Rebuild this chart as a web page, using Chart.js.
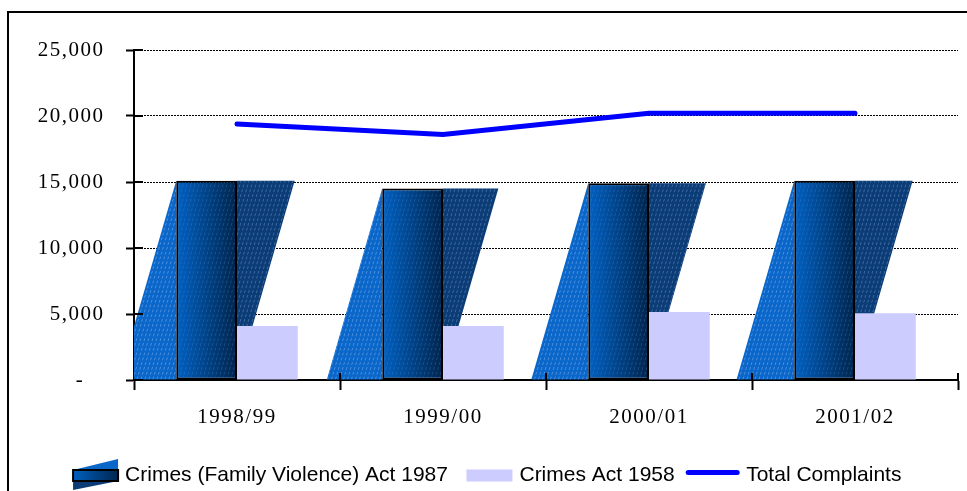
<!DOCTYPE html>
<html>
<head>
<meta charset="utf-8">
<script src="https://cdn.jsdelivr.net/npm/chart.js@4.4.1/dist/chart.umd.min.js"></script>
<style>
  html, body { margin: 0; padding: 0; background: #fff; }
  #wrap { width: 967px; height: 491px; position: relative; }
</style>
</head>
<body>
<div id="wrap"><canvas id="complaints"></canvas></div>
<script>
// DATA
const categories = ['1998/99', '1999/00', '2000/01', '2001/02'];
const familyViolence = [15100, 14500, 14900, 15100];
const crimesAct = [4100, 4100, 5150, 5050];
const totalComplaints = [19400, 18600, 20200, 20200];
const yTickLabels = ['-   ', '5,000', '10,000', '15,000', '20,000', '25,000'];
const seriesNames = ['Crimes (Family Violence) Act 1987', 'Crimes Act 1958', 'Total Complaints'];

const SHEAR = 0.29; // slant of the "3d" side pieces
const LEGEND_FONT = 21;
const LEGEND_BOX = 50;

function barBox(el) {
  const p = el.getProps(['x', 'y', 'base', 'width'], true);
  return {
    left: p.x - p.width / 2,
    right: p.x + p.width / 2,
    top: Math.min(p.y, p.base),
    base: Math.max(p.y, p.base)
  };
}

// faint dashed lines running along the slant
function hatch(ctx, x0, x1, top, base, color) {
  const s = (base - top) * SHEAR;
  ctx.save();
  ctx.strokeStyle = color;
  ctx.lineWidth = 1;
  ctx.setLineDash([3, 2]);
  for (let x = x0 - s; x < x1 + s; x += 4) {
    ctx.beginPath();
    ctx.moveTo(x, base);
    ctx.lineTo(x + s, top);
    ctx.stroke();
  }
  ctx.restore();
}

function rectShade(ctx, l, t, r, b) {
  const g = ctx.createLinearGradient(l, 0, r, 0);
  g.addColorStop(0, '#005fbf');
  g.addColorStop(1, '#00264f');
  ctx.fillStyle = g;
  ctx.fillRect(l, t, r - l, b - t);
}

// PARALLELOGRAM BARS
const slantBars = {
  id: 'slantBars',
  beforeDatasetsDraw(chart) {
    const ctx = chart.ctx;
    const area = chart.chartArea;
    ctx.save();
    ctx.beginPath();
    ctx.rect(area.left, area.top, area.right - area.left, area.bottom - area.top);
    ctx.clip();
    chart.getDatasetMeta(0).data.forEach(function(el) {
      const b = barBox(el);
      const s = (b.base - b.top) * SHEAR;
      // left piece
      ctx.save();
      ctx.beginPath();
      ctx.moveTo(b.left - s, b.base);
      ctx.lineTo(b.left, b.top);
      ctx.lineTo(b.left, b.base);
      ctx.closePath();
      ctx.fillStyle = '#0a66c8';
      ctx.fill();
      ctx.clip();
      hatch(ctx, b.left - s, b.left, b.top, b.base, 'rgba(150,195,255,0.45)');
      ctx.restore();
      // right piece
      ctx.save();
      ctx.beginPath();
      ctx.moveTo(b.right, b.top);
      ctx.lineTo(b.right + s, b.top);
      ctx.lineTo(b.right, b.base);
      ctx.closePath();
      ctx.fillStyle = '#0b3c76';
      ctx.fill();
      ctx.clip();
      hatch(ctx, b.right, b.right + s, b.top, b.base, 'rgba(120,160,215,0.45)');
      ctx.restore();
    });
    ctx.restore();
  },
  afterDatasetDraw(chart, args) {
    if (args.index !== 0) return;
    const ctx = chart.ctx;
    args.meta.data.forEach(function(el) {
      const b = barBox(el);
      ctx.save();
      ctx.beginPath();
      ctx.rect(b.left + 2, b.top + 2, b.right - b.left - 4, b.base - b.top - 4);
      ctx.clip();
      rectShade(ctx, b.left + 2, b.top + 2, b.right - 2, b.base - 2);
      hatch(ctx, b.left, b.right, b.top, b.base, 'rgba(90,140,210,0.3)');
      ctx.restore();
    });
  }
};

// serif tick labels are spaced out; legend is not
const spacing = {
  id: 'spacing',
  beforeDraw(chart) { chart.ctx.letterSpacing = '0px'; },
  afterDatasetsDraw(chart) { chart.ctx.letterSpacing = '1.5px'; },
  afterDraw(chart) { chart.ctx.letterSpacing = '0px'; }
};

// FRAME, CROSSING TICKS, LEGEND ICONS
const extras = {
  id: 'extras',
  afterDraw(chart) {
    const ctx = chart.ctx;
    const area = chart.chartArea;
    const yScale = chart.scales.y;
    const xScale = chart.scales.x;
    ctx.save();
    ctx.strokeStyle = '#000';
    ctx.lineWidth = 2;
    // outer frame
    ctx.beginPath();
    ctx.moveTo(8, 491);
    ctx.lineTo(8, 12);
    ctx.lineTo(967, 12);
    ctx.stroke();
    // tick marks reaching into the plot
    yScale.ticks.forEach(function(t) {
      const py = Math.round(yScale.getPixelForValue(t.value));
      ctx.beginPath();
      ctx.moveTo(area.left, py);
      ctx.lineTo(area.left + 9, py);
      ctx.stroke();
    });
    const step = (area.right - area.left) / categories.length;
    for (let k = 1; k <= categories.length; k++) {
      const px = Math.round(xScale.left + k * step);
      ctx.beginPath();
      ctx.moveTo(px, area.bottom - 7);
      ctx.lineTo(px, area.bottom);
      ctx.stroke();
    }
    ctx.restore();

    // legend icons
    const boxes = chart.legend.legendHitBoxes;
    boxes.forEach(function(hb, i) {
      const cy = hb.top + hb.height / 2;
      const iconRight = hb.left + LEGEND_BOX + LEGEND_FONT / 2 - 7;
      ctx.save();
      if (i === 0) {
        const x0 = iconRight - 45, x1 = iconRight, y0 = cy - 5.5, y1 = cy + 5.5;
        ctx.beginPath();
        ctx.moveTo(x0, y0); ctx.lineTo(x1, y0 - 11); ctx.lineTo(x1, y0); ctx.closePath();
        ctx.fillStyle = '#0a66c8'; ctx.fill();
        ctx.beginPath();
        ctx.moveTo(x0, y1); ctx.lineTo(x0, y1 + 9); ctx.lineTo(x1, y1); ctx.closePath();
        ctx.fillStyle = '#0b3c76'; ctx.fill();
        rectShade(ctx, x0, y0, x1, y1);
        ctx.strokeStyle = '#000'; ctx.lineWidth = 2;
        ctx.strokeRect(x0, y0, x1 - x0, y1 - y0);
      } else if (i === 1) {
        ctx.fillStyle = '#ccccff';
        ctx.fillRect(iconRight - 46, cy - 6, 46, 12);
      } else {
        ctx.strokeStyle = '#0000ff'; ctx.lineWidth = 5; ctx.lineCap = 'round';
        ctx.beginPath();
        ctx.moveTo(iconRight - 51, cy - 3);
        ctx.lineTo(iconRight - 2, cy - 3);
        ctx.stroke();
      }
      ctx.restore();
    });
  }
};

const tickFont = { family: "'Liberation Serif', 'Times New Roman', serif", size: 21 };

const data = {
  labels: categories,
  datasets: [{
    type: 'bar',
    label: seriesNames[0],
    data: familyViolence,
    backgroundColor: '#004a99',
    borderColor: '#000',
    borderWidth: 2,
    borderSkipped: false,
    order: 1
  }, {
    type: 'bar',
    label: seriesNames[1],
    data: crimesAct,
    backgroundColor: '#ccccff',
    borderWidth: 0,
    order: 1
  }, {
    type: 'line',
    label: seriesNames[2],
    data: totalComplaints,
    borderColor: '#0000ff',
    borderWidth: 5,
    borderCapStyle: 'round',
    pointRadius: 0,
    fill: false,
    tension: 0,
    order: 0
  }]
};

const config = {
  type: 'bar',
  data,
  options: {
    responsive: true,
    maintainAspectRatio: false,
    animation: false,
    categoryPercentage: 0.59,
    barPercentage: 1.0,
    layout: { padding: { left: 8, right: 9, top: 50, bottom: -5 } },
    scales: {
      x: {
        offset: true,
        grid: {
          offset: true,
          drawOnChartArea: false,
          drawTicks: true,
          tickLength: 10,
          tickColor: '#000',
          tickWidth: 2
        },
        border: { display: true, color: '#000', width: 2 },
        ticks: { color: '#000', font: tickFont, padding: 15, z: 1, maxRotation: 0 },
        afterFit(scale) { scale.height = 74; }
      },
      y: {
        min: 0,
        max: 25000,
        grid: {
          color: '#000',
          lineWidth: 1,
          tickLength: 8,
          tickColor: '#000',
          tickWidth: 2
        },
        border: { display: true, color: '#000', width: 2, dash: [2, 1] },
        ticks: {
          stepSize: 5000,
          color: '#000',
          font: tickFont,
          padding: 21.5,
          z: 1,
          callback: function(value, index) { return yTickLabels[index]; }
        },
        afterFit(scale) { scale.width = 126; }
      }
    },
    plugins: {
      tooltip: { enabled: false },
      legend: {
        position: 'bottom',
        labels: {
          boxWidth: LEGEND_BOX,
          boxHeight: 12,
          padding: 11,
          color: '#000',
          font: { family: "'Liberation Sans', Arial, sans-serif", size: LEGEND_FONT },
          generateLabels: function(chart) {
            return chart.data.datasets.map(function(ds, i) {
              return {
                text: ds.label,
                fillStyle: 'rgba(0,0,0,0)',
                strokeStyle: 'rgba(0,0,0,0)',
                lineWidth: 0,
                datasetIndex: i,
                hidden: false
              };
            });
          }
        }
      }
    }
  },
  plugins: [slantBars, spacing, extras]
};

const ctx = document.getElementById('complaints');
const myChart = new Chart(ctx, config);
</script>
</body>
</html>
